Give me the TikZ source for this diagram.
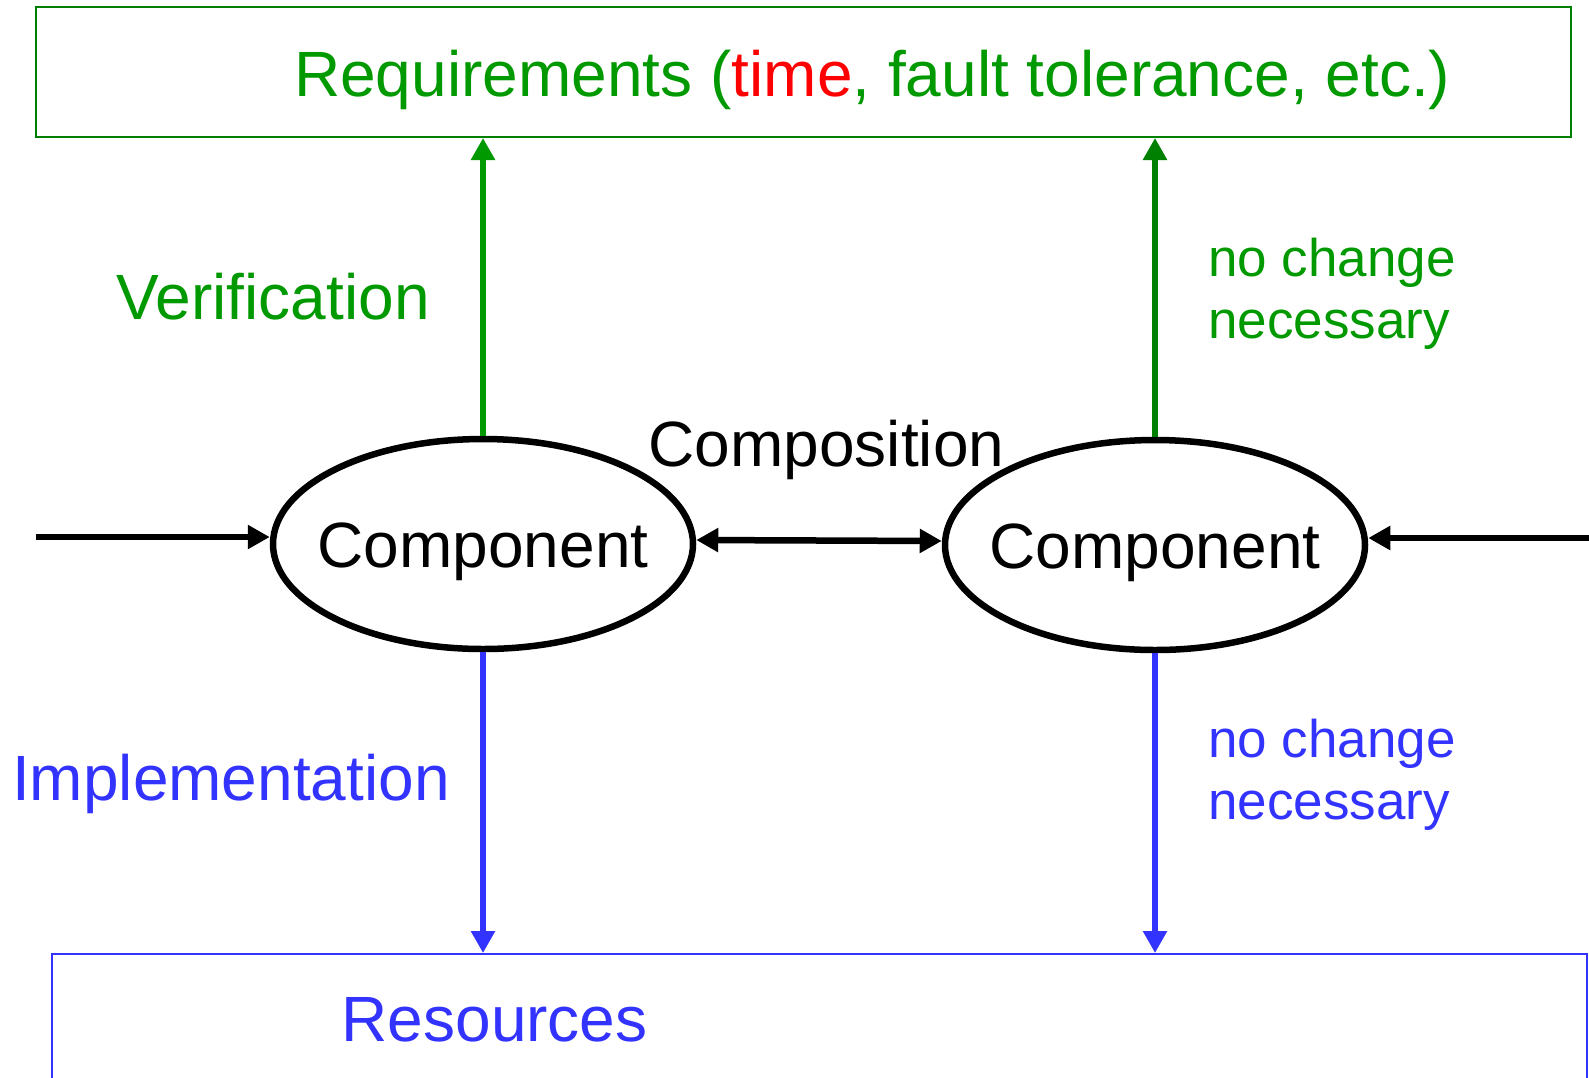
\documentclass[tikz,border=0pt]{standalone}
\usepackage{fontspec}
\setmainfont{Liberation Sans}
\usetikzlibrary{shapes.geometric,arrows.meta}
\definecolor{reqgreen}{HTML}{009900}
\definecolor{darkgreen}{HTML}{008000}
\definecolor{resblue}{HTML}{3333FF}
\definecolor{timered}{HTML}{FF0000}
\tikzset{
  bigtext/.style={font=\fontsize{64}{70}\selectfont, inner sep=0pt, anchor=base west},
  smalltext/.style={font=\fontsize{53}{62}\selectfont, inner sep=0pt, anchor=base west, align=left},
  comp/.style={ellipse, draw=black, line width=6.5pt, minimum width=420pt, minimum height=210pt, inner sep=0pt, font=\fontsize{64}{70}\selectfont},
  tip/.style={-{Triangle[width=23pt,length=22pt]}},
  flow/.style={tip, line width=6.5pt},
  both/.style={{Triangle[width=23pt,length=22pt]}-{Triangle[width=23pt,length=22pt]}, line width=6.5pt},
}
% label of an empty-sized box: the ellipse keeps its set size, baseline sits below the centre
\newcommand{\complabel}[1]{\makebox[0pt]{\raisebox{-23pt}[0pt][0pt]{#1}}}
\begin{document}
\begin{tikzpicture}[x=1pt,y=-1pt]
\useasboundingbox (0,0) rectangle (1589,1077);
\clip (0,0) rectangle (1589,1077);

% requirement and resource boxes
\node[draw=darkgreen, line width=2pt, minimum width=1535.5pt, minimum height=130pt, inner sep=0pt] (req) at (803.25,72) {};
\node[bigtext, text=reqgreen] (reqlabel) at (294,96) {Requirements (\textcolor{timered}{time}, fault tolerance, etc.)};
\node[draw=resblue, line width=2pt, minimum width=1535pt, minimum height=200pt, inner sep=0pt] (res) at (819.5,1054) {};
\node[bigtext, text=resblue] (reslabel) at (341.5,1041) {Resources};

% components
\node[comp] (c1) at (483,544) {\complabel{Component}};
\node[comp] (c2) at (1155,545) {\complabel{Component}};

% inputs from outside
\coordinate (inL) at (35.5,537);
\coordinate (inR) at (1589,538);
\draw[flow] (inL) -- ([yshift=7pt]c1.west);
\draw[flow] (inR) -- ([yshift=7pt]c2.east);

% composition
\draw[both] ([yshift=4pt]c1.east) -- ([yshift=4pt]c2.west);
\node[bigtext] (complabel) at (648.5,466) {Composition};

% verification against requirements
\draw[tip, line width=5.5pt, draw=reqgreen, fill=reqgreen] (c1.north) -- (c1.north |- req.south);
\draw[tip, line width=5.5pt, draw=darkgreen, fill=darkgreen] (c2.north) -- (c2.north |- req.south);
\node[bigtext, text=reqgreen] (verlabel) at (116.5,319) {Verification};
\node[smalltext, text=reqgreen] (nc1) at (1208,338.5) {no change\\necessary};

% implementation on resources
\draw[tip, line width=5.5pt, draw=resblue, fill=resblue] (c1.south) -- (c1.south |- res.north);
\draw[tip, line width=5.5pt, draw=resblue, fill=resblue] (c2.south) -- (c2.south |- res.north);
\node[bigtext, text=resblue] (implabel) at (12,800.5) {Implementation};
\node[smalltext, text=resblue] (nc2) at (1208,819) {no change\\necessary};
\end{tikzpicture}
\end{document}
